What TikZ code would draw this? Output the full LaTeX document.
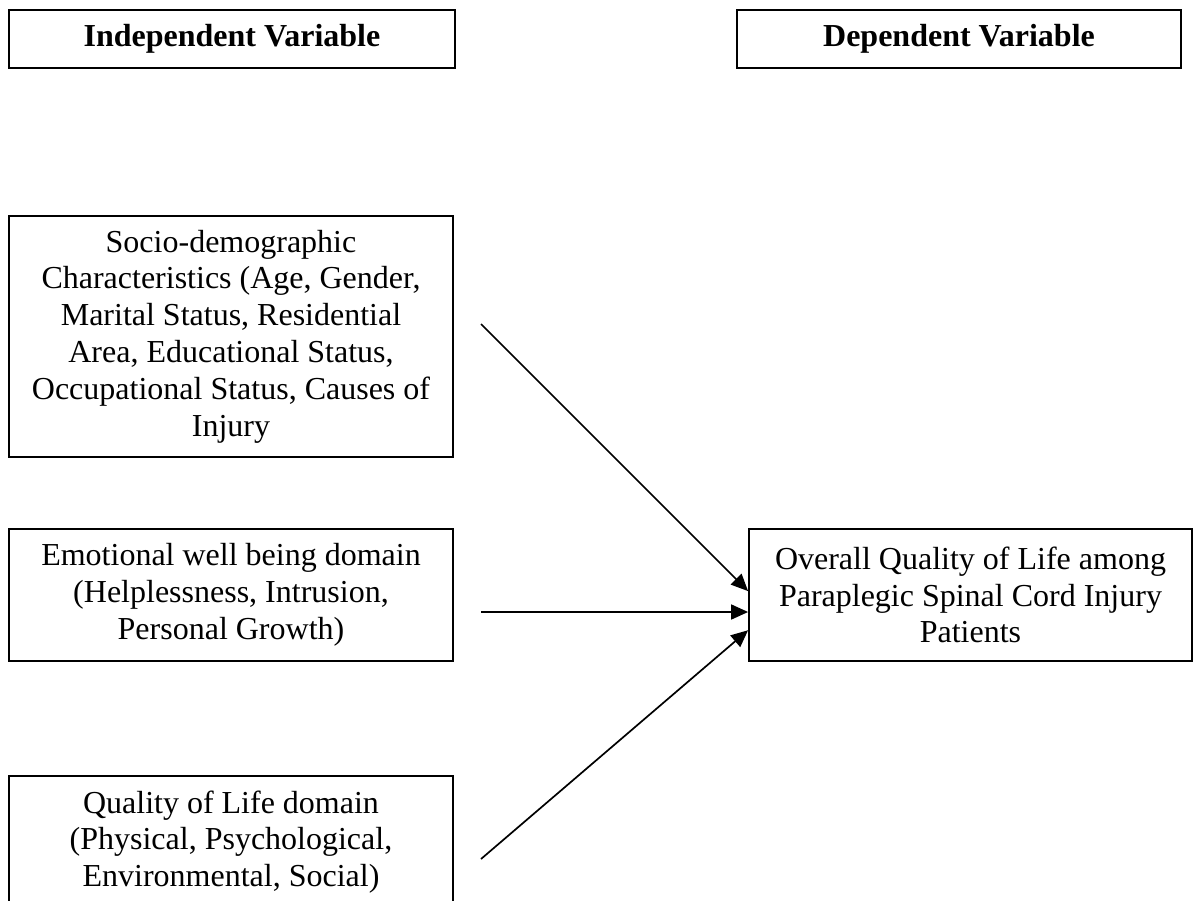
\documentclass[tikz,border=0pt]{standalone}
\usepackage{fontspec}
\setmainfont{Liberation Serif}
\usetikzlibrary{arrows.meta}

\begin{document}
\begin{tikzpicture}[scale=0.17573]
	\tikzstyle{every node}+=[inner sep=0pt, font=\fontsize{16}{18.4}\selectfont]
	\tikzstyle{box}=[draw=black, line width=0.9pt, align=center]
	\tikzstyle{head}=[box, minimum height=29pt, font=\fontsize{16}{18.4}\selectfont\bfseries]
	\tikzstyle{link}=[black, line width=0.85pt, -{Triangle[length=8.5pt,width=7.5pt]}]
	\clip (0,0) rectangle (119.8,-90.1);
	\node [head, minimum width=223pt] (ivhead) at (23.2,-3.9) {\raisebox{-1.5pt}{Independent Variable}};
	\node [head, minimum width=222pt] (dvhead) at (95.9,-3.9) {\raisebox{-1.5pt}{Dependent Variable}};
	\node [box, minimum width=222pt, minimum height=120.5pt] (socio) at (23.1,-33.65)
		{Socio-demographic\\Characteristics (Age, Gender,\\Marital Status, Residential\\Area, Educational Status,\\Occupational Status, Causes of\\Injury};
	\node [box, minimum width=222pt, minimum height=66pt] (emo) at (23.1,-59.5)
		{Emotional well being domain\\(Helplessness, Intrusion,\\Personal Growth)};
	\node [box, minimum width=222pt, minimum height=66pt] (qol) at (23.1,-84.2)
		{Quality of Life domain\\(Physical, Psychological,\\Environmental, Social)};
	\node [box, minimum width=221.5pt, minimum height=66pt] (overall) at (97.05,-59.5)
		{Overall Quality of Life among\\Paraplegic Spinal Cord Injury\\Patients};
	\coordinate (s1) at (48.1,-32.4);
	\coordinate (s2) at (48.1,-61.2);
	\coordinate (s3) at (48.1,-85.9);
	\draw [link] (s1) -- (overall.179.5);
	\draw [link] (s2) -- (s2 -| overall.west);
	\draw [link] (s3) -- (overall.189.5);
\end{tikzpicture}
\end{document}
